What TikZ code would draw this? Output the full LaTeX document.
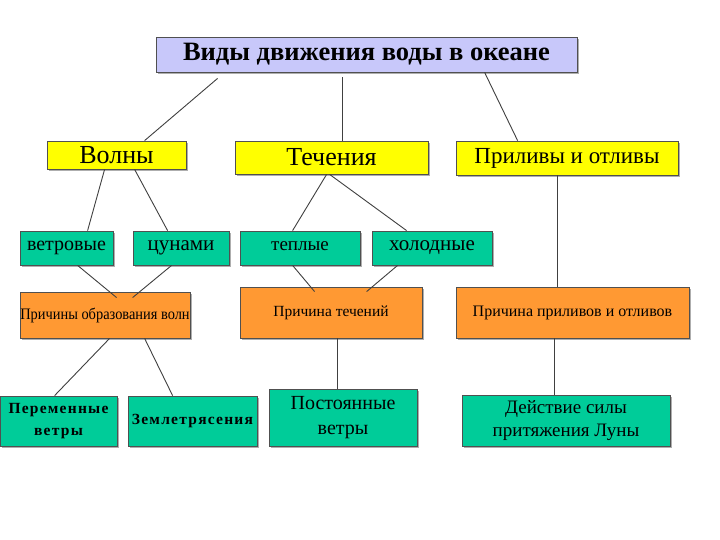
\documentclass[tikz,border=0pt]{standalone}
\usepackage{fontspec}
\setmainfont{Liberation Serif}
\usepackage{graphicx}
\usetikzlibrary{shadows,calc}
\definecolor{titlefill}{RGB}{200,200,250}
\definecolor{yel}{RGB}{255,255,0}
\definecolor{grn}{RGB}{0,204,153}
\definecolor{org}{RGB}{255,153,51}
\definecolor{edge}{RGB}{80,80,80}
\newcommand\fs[1]{\fontsize{#1}{#1}\selectfont}
\begin{document}
\begin{tikzpicture}[x=1pt,y=-1pt,
  box/.style={draw=edge, line width=0.8pt, inner sep=0pt, align=center,
    drop shadow={shadow xshift=2pt,shadow yshift=-2pt,fill=black!45,opacity=0.7}},
  tbox/.style={box, fill=titlefill},
  ybox/.style={box, fill=yel},
  gbox/.style={box, fill=grn},
  obox/.style={box, fill=org},
  conn/.style={draw=black!75, line width=0.9pt}]
\useasboundingbox[fill=white] (0,0) rectangle (720,540);

\node[tbox, minimum width=421pt, minimum height=35pt, font=\fs{26.5}\bfseries] (T) at (366.5,54.5) {Виды движения воды в океане};

\node[ybox, minimum width=139pt, minimum height=28pt, font=\fs{26}] (W) at (116.5,155) {Волны};
\node[ybox, minimum width=193pt, minimum height=33pt, font=\fs{26}] (Tc) at (331.5,157.5) {Течения};
\node[ybox, minimum width=222pt, minimum height=34pt, font=\fs{23}] (P) at (567,158) {Приливы и отливы};

\node[gbox, minimum width=93pt, minimum height=34pt, font=\fs{20}] (v) at (66.5,248) {ветровые};
\node[gbox, minimum width=96pt, minimum height=34pt, font=\fs{21}] (c) at (181,248) {цунами};
\node[gbox, minimum width=120pt, minimum height=34pt, font=\fs{19}] (t) at (300,248) {\raisebox{3pt}{теплые}};
\node[gbox, minimum width=120pt, minimum height=34pt, font=\fs{21}] (h) at (432,248) {холодные};

\node[obox, minimum width=170pt, minimum height=46pt, font=\fs{16}] (Po) at (105,315) {\scalebox{0.9}[1]{Причины образования волн}};
\node[obox, minimum width=182pt, minimum height=51pt, font=\fs{15.5}] (Pt) at (331,312.5) {Причина течений};
\node[obox, minimum width=233pt, minimum height=51pt, font=\fs{16}] (Pp) at (572.5,312.5) {Причина приливов и отливов};

\node[gbox, minimum width=117pt, minimum height=50pt, font=\fs{15.5}\bfseries\addfontfeature{LetterSpace=8}] (pv) at (58.5,421) {Переменные\\[6.5pt]ветры};
\node[gbox, minimum width=129pt, minimum height=50pt, font=\fs{15.5}\bfseries\addfontfeature{LetterSpace=8}] (z) at (192.5,421) {Землетрясения};
\node[gbox, minimum width=148pt, minimum height=57pt, font=\fs{20}] (ps) at (343,417.5) {Постоянные\\[5pt]ветры};
\node[gbox, minimum width=208pt, minimum height=51pt, font=\fs{19}] (d) at (566,420.5) {Действие силы\\[4pt]притяжения Луны};

\draw[conn] ($(T.south west)+(62,6)$) -- ($(W.north west)+(98,0)$);
\draw[conn] ($(T.south west)+(187,5)$) -- ($(Tc.north west)+(108,0)$);
\draw[conn] ($(T.south west)+(329,0)$) -- ($(P.north west)+(62,0)$);
\draw[conn] ($(W.south west)+(58,0)$) -- ($(v.north west)+(68,0)$);
\draw[conn] ($(W.south west)+(88,0)$) -- ($(c.north west)+(35,0)$);
\draw[conn] ($(Tc.south west)+(92,0)$) -- ($(t.north west)+(53,0)$);
\draw[conn] ($(Tc.south west)+(95,0)$) -- ($(h.north west)+(35,0)$);
\draw[conn] ($(P.south west)+(102,0)$) -- ($(Pp.north west)+(102,0)$);
\draw[conn] ($(v.south west)+(58,0)$) -- ($(Po.north west)+(97,6)$);
\draw[conn] ($(c.south west)+(39,0)$) -- ($(Po.north west)+(113,6)$);
\draw[conn] ($(t.south west)+(53,0)$) -- ($(Pt.north west)+(75,5)$);
\draw[conn] ($(h.south west)+(26,0)$) -- ($(Pt.north west)+(127,5)$);
\draw[conn] ($(Po.south west)+(90,0)$) -- ($(pv.north west)+(55,0)$);
\draw[conn] ($(Po.south west)+(125,0)$) -- ($(z.north west)+(45,0)$);
\draw[conn] ($(Pt.south west)+(98,0)$) -- ($(ps.north west)+(69,0)$);
\draw[conn] ($(Pp.south west)+(99,0)$) -- ($(d.north west)+(93,0)$);
\end{tikzpicture}
\end{document}
